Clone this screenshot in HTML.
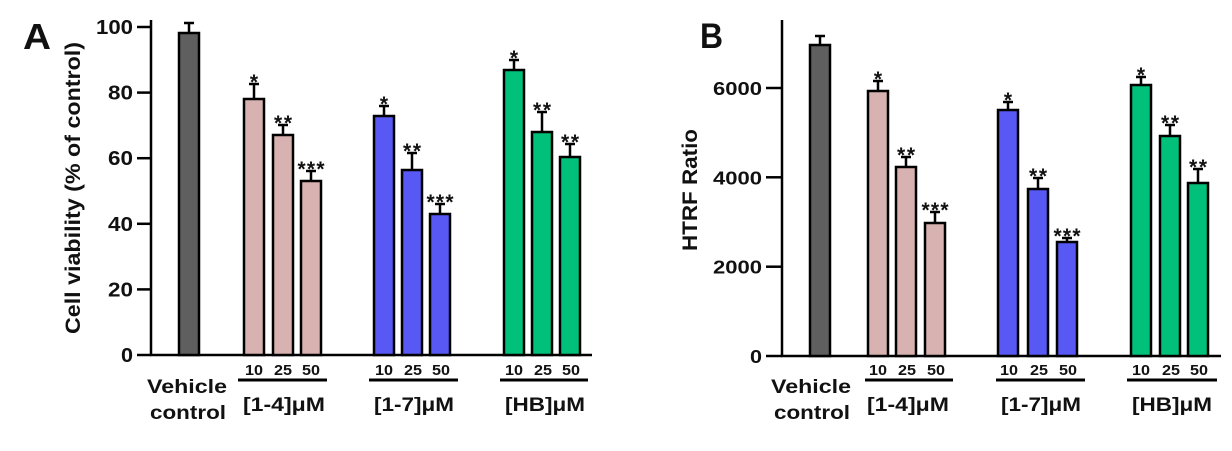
<!DOCTYPE html>
<html><head><meta charset="utf-8"><style>
html,body{margin:0;padding:0;background:#fff;}
svg{display:block;}
text{font-family:"Liberation Sans",Arial,sans-serif;font-weight:bold;fill:#111;}
.st{font-size:21px;letter-spacing:0px;}
</style></head><body>
<svg width="1232" height="451" viewBox="0 0 1232 451" xmlns="http://www.w3.org/2000/svg">
<g stroke="#000" stroke-width="2.5">
<line x1="151" y1="20" x2="151" y2="356"/>
<line x1="150" y1="355" x2="592" y2="355"/>
<line x1="137" y1="27" x2="151" y2="27"/>
<line x1="137" y1="92.6" x2="151" y2="92.6"/>
<line x1="137" y1="158.2" x2="151" y2="158.2"/>
<line x1="137" y1="223.8" x2="151" y2="223.8"/>
<line x1="137" y1="289.4" x2="151" y2="289.4"/>
<line x1="137" y1="355" x2="151" y2="355"/>
<line x1="238" y1="380" x2="327" y2="380" stroke-width="3"/>
<line x1="369" y1="380" x2="458" y2="380" stroke-width="3"/>
<line x1="500" y1="380" x2="588" y2="380" stroke-width="3"/>
<line x1="782" y1="20" x2="782" y2="357"/>
<line x1="781" y1="356" x2="1221" y2="356"/>
<line x1="766" y1="88" x2="782" y2="88"/>
<line x1="766" y1="177.3" x2="782" y2="177.3"/>
<line x1="766" y1="266.7" x2="782" y2="266.7"/>
<line x1="766" y1="356" x2="782" y2="356"/>
<line x1="865" y1="380" x2="953" y2="380" stroke-width="3"/>
<line x1="996" y1="380" x2="1085" y2="380" stroke-width="3"/>
<line x1="1127" y1="380" x2="1217" y2="380" stroke-width="3"/>
</g>
<g stroke="#000" stroke-width="2.5">
<path d="M189 33V23M184 23H194"/>
<path d="M254 99V84M249 84H259"/>
<path d="M283 135V125M278 125H288"/>
<path d="M311 181V171M306 171H316"/>
<path d="M384 116V106M379 106H389"/>
<path d="M412 170V153M407 153H417"/>
<path d="M440 214V204M435 204H445"/>
<path d="M514 70V60M509 60H519"/>
<path d="M542 132V112M537 112H547"/>
<path d="M570 157V144M565 144H575"/>
<path d="M820 45V36M815 36H825"/>
<path d="M878 91V81M873 81H883"/>
<path d="M906 167V157M901 157H911"/>
<path d="M935 223V212M930 212H940"/>
<path d="M1008 110V102M1003 102H1013"/>
<path d="M1038 189V178M1033 178H1043"/>
<path d="M1067 242V238M1062 238H1072"/>
<path d="M1141 85V77M1136 77H1146"/>
<path d="M1170 136V125M1165 125H1175"/>
<path d="M1198 183V169M1193 169H1203"/>
</g>
<g stroke="#000" stroke-width="2.5">
<rect x="179" y="33" width="20" height="322" fill="#5f5f5f"/>
<rect x="244" y="99" width="20" height="256" fill="#d8b2b0"/>
<rect x="273" y="135" width="20" height="220" fill="#d8b2b0"/>
<rect x="301" y="181" width="20" height="174" fill="#d8b2b0"/>
<rect x="374" y="116" width="20" height="239" fill="#5858f4"/>
<rect x="402" y="170" width="20" height="185" fill="#5858f4"/>
<rect x="430" y="214" width="20" height="141" fill="#5858f4"/>
<rect x="504" y="70" width="20" height="285" fill="#00c07a"/>
<rect x="532" y="132" width="20" height="223" fill="#00c07a"/>
<rect x="560" y="157" width="20" height="198" fill="#00c07a"/>
<rect x="810" y="45" width="20" height="311" fill="#5f5f5f"/>
<rect x="868" y="91" width="20" height="265" fill="#d8b2b0"/>
<rect x="896" y="167" width="20" height="189" fill="#d8b2b0"/>
<rect x="925" y="223" width="20" height="133" fill="#d8b2b0"/>
<rect x="998" y="110" width="20" height="246" fill="#5858f4"/>
<rect x="1028" y="189" width="20" height="167" fill="#5858f4"/>
<rect x="1057" y="242" width="20" height="114" fill="#5858f4"/>
<rect x="1131" y="85" width="20" height="271" fill="#00c07a"/>
<rect x="1160" y="136" width="20" height="220" fill="#00c07a"/>
<rect x="1188" y="183" width="20" height="173" fill="#00c07a"/>
</g>
<text x="23" y="49" font-size="36" textLength="28" lengthAdjust="spacingAndGlyphs">A</text>
<text x="700" y="48" font-size="35" textLength="23" lengthAdjust="spacingAndGlyphs">B</text>
<g font-size="20" text-anchor="end">
<text x="133" y="34" textLength="37" lengthAdjust="spacingAndGlyphs">100</text>
<text x="133" y="99.6" textLength="25" lengthAdjust="spacingAndGlyphs">80</text>
<text x="133" y="165.2" textLength="25" lengthAdjust="spacingAndGlyphs">60</text>
<text x="133" y="230.8" textLength="25" lengthAdjust="spacingAndGlyphs">40</text>
<text x="133" y="296.4" textLength="25" lengthAdjust="spacingAndGlyphs">20</text>
<text x="133" y="362" textLength="12" lengthAdjust="spacingAndGlyphs">0</text>
</g>
<g font-size="18" text-anchor="end">
<text x="762" y="95" textLength="49" lengthAdjust="spacingAndGlyphs">6000</text>
<text x="762" y="184.3" textLength="49" lengthAdjust="spacingAndGlyphs">4000</text>
<text x="762" y="273.7" textLength="49" lengthAdjust="spacingAndGlyphs">2000</text>
<text x="762" y="363" textLength="12" lengthAdjust="spacingAndGlyphs">0</text>
</g>
<text transform="translate(80,188) rotate(-90)" font-size="21" text-anchor="middle" textLength="292" lengthAdjust="spacingAndGlyphs">Cell viability (% of control)</text>
<text transform="translate(697,190) rotate(-90)" font-size="21" text-anchor="middle" textLength="122" lengthAdjust="spacingAndGlyphs">HTRF Ratio</text>
<g class="st" text-anchor="middle">
<text x="254" y="89">*</text><text x="283" y="130" textLength="18" lengthAdjust="spacing">**</text><text x="311" y="176" textLength="27" lengthAdjust="spacing">***</text>
<text x="384" y="111">*</text><text x="412" y="158" textLength="18" lengthAdjust="spacing">**</text><text x="440" y="209" textLength="27" lengthAdjust="spacing">***</text>
<text x="514" y="65">*</text><text x="542" y="117" textLength="18" lengthAdjust="spacing">**</text><text x="570" y="149" textLength="18" lengthAdjust="spacing">**</text>
<text x="878" y="86">*</text><text x="906" y="162" textLength="18" lengthAdjust="spacing">**</text><text x="935" y="217" textLength="27" lengthAdjust="spacing">***</text>
<text x="1008" y="107">*</text><text x="1038" y="183" textLength="18" lengthAdjust="spacing">**</text><text x="1067" y="243" textLength="27" lengthAdjust="spacing">***</text>
<text x="1141" y="82">*</text><text x="1170" y="130" textLength="18" lengthAdjust="spacing">**</text><text x="1198" y="174" textLength="18" lengthAdjust="spacing">**</text>
</g>
<g font-size="15" text-anchor="middle">
<text x="254" y="375" textLength="18" lengthAdjust="spacingAndGlyphs">10</text><text x="283" y="375" textLength="18" lengthAdjust="spacingAndGlyphs">25</text><text x="311" y="375" textLength="18" lengthAdjust="spacingAndGlyphs">50</text>
<text x="384" y="375" textLength="18" lengthAdjust="spacingAndGlyphs">10</text><text x="413" y="375" textLength="18" lengthAdjust="spacingAndGlyphs">25</text><text x="441" y="375" textLength="18" lengthAdjust="spacingAndGlyphs">50</text>
<text x="514" y="375" textLength="18" lengthAdjust="spacingAndGlyphs">10</text><text x="543" y="375" textLength="18" lengthAdjust="spacingAndGlyphs">25</text><text x="571" y="375" textLength="18" lengthAdjust="spacingAndGlyphs">50</text>
<text x="878" y="375" textLength="18" lengthAdjust="spacingAndGlyphs">10</text><text x="907" y="375" textLength="18" lengthAdjust="spacingAndGlyphs">25</text><text x="936" y="375" textLength="18" lengthAdjust="spacingAndGlyphs">50</text>
<text x="1009" y="375" textLength="18" lengthAdjust="spacingAndGlyphs">10</text><text x="1039" y="375" textLength="18" lengthAdjust="spacingAndGlyphs">25</text><text x="1068" y="375" textLength="18" lengthAdjust="spacingAndGlyphs">50</text>
<text x="1141" y="375" textLength="18" lengthAdjust="spacingAndGlyphs">10</text><text x="1171" y="375" textLength="18" lengthAdjust="spacingAndGlyphs">25</text><text x="1199" y="375" textLength="18" lengthAdjust="spacingAndGlyphs">50</text>
</g>
<g font-size="19" text-anchor="middle">
<text x="187" y="393" textLength="80" lengthAdjust="spacingAndGlyphs">Vehicle</text>
<text x="188" y="419" textLength="76" lengthAdjust="spacingAndGlyphs">control</text>
<text x="811" y="393" textLength="80" lengthAdjust="spacingAndGlyphs">Vehicle</text>
<text x="812" y="419" textLength="76" lengthAdjust="spacingAndGlyphs">control</text>
<text x="284" y="411" textLength="82" lengthAdjust="spacingAndGlyphs">[1-4]μM</text>
<text x="414" y="411" textLength="80" lengthAdjust="spacingAndGlyphs">[1-7]μM</text>
<text x="545" y="411" textLength="80" lengthAdjust="spacingAndGlyphs">[HB]μM</text>
<text x="908" y="411" textLength="82" lengthAdjust="spacingAndGlyphs">[1-4]μM</text>
<text x="1041" y="411" textLength="80" lengthAdjust="spacingAndGlyphs">[1-7]μM</text>
<text x="1172" y="411" textLength="80" lengthAdjust="spacingAndGlyphs">[HB]μM</text>
</g>
</svg>
</body></html>
